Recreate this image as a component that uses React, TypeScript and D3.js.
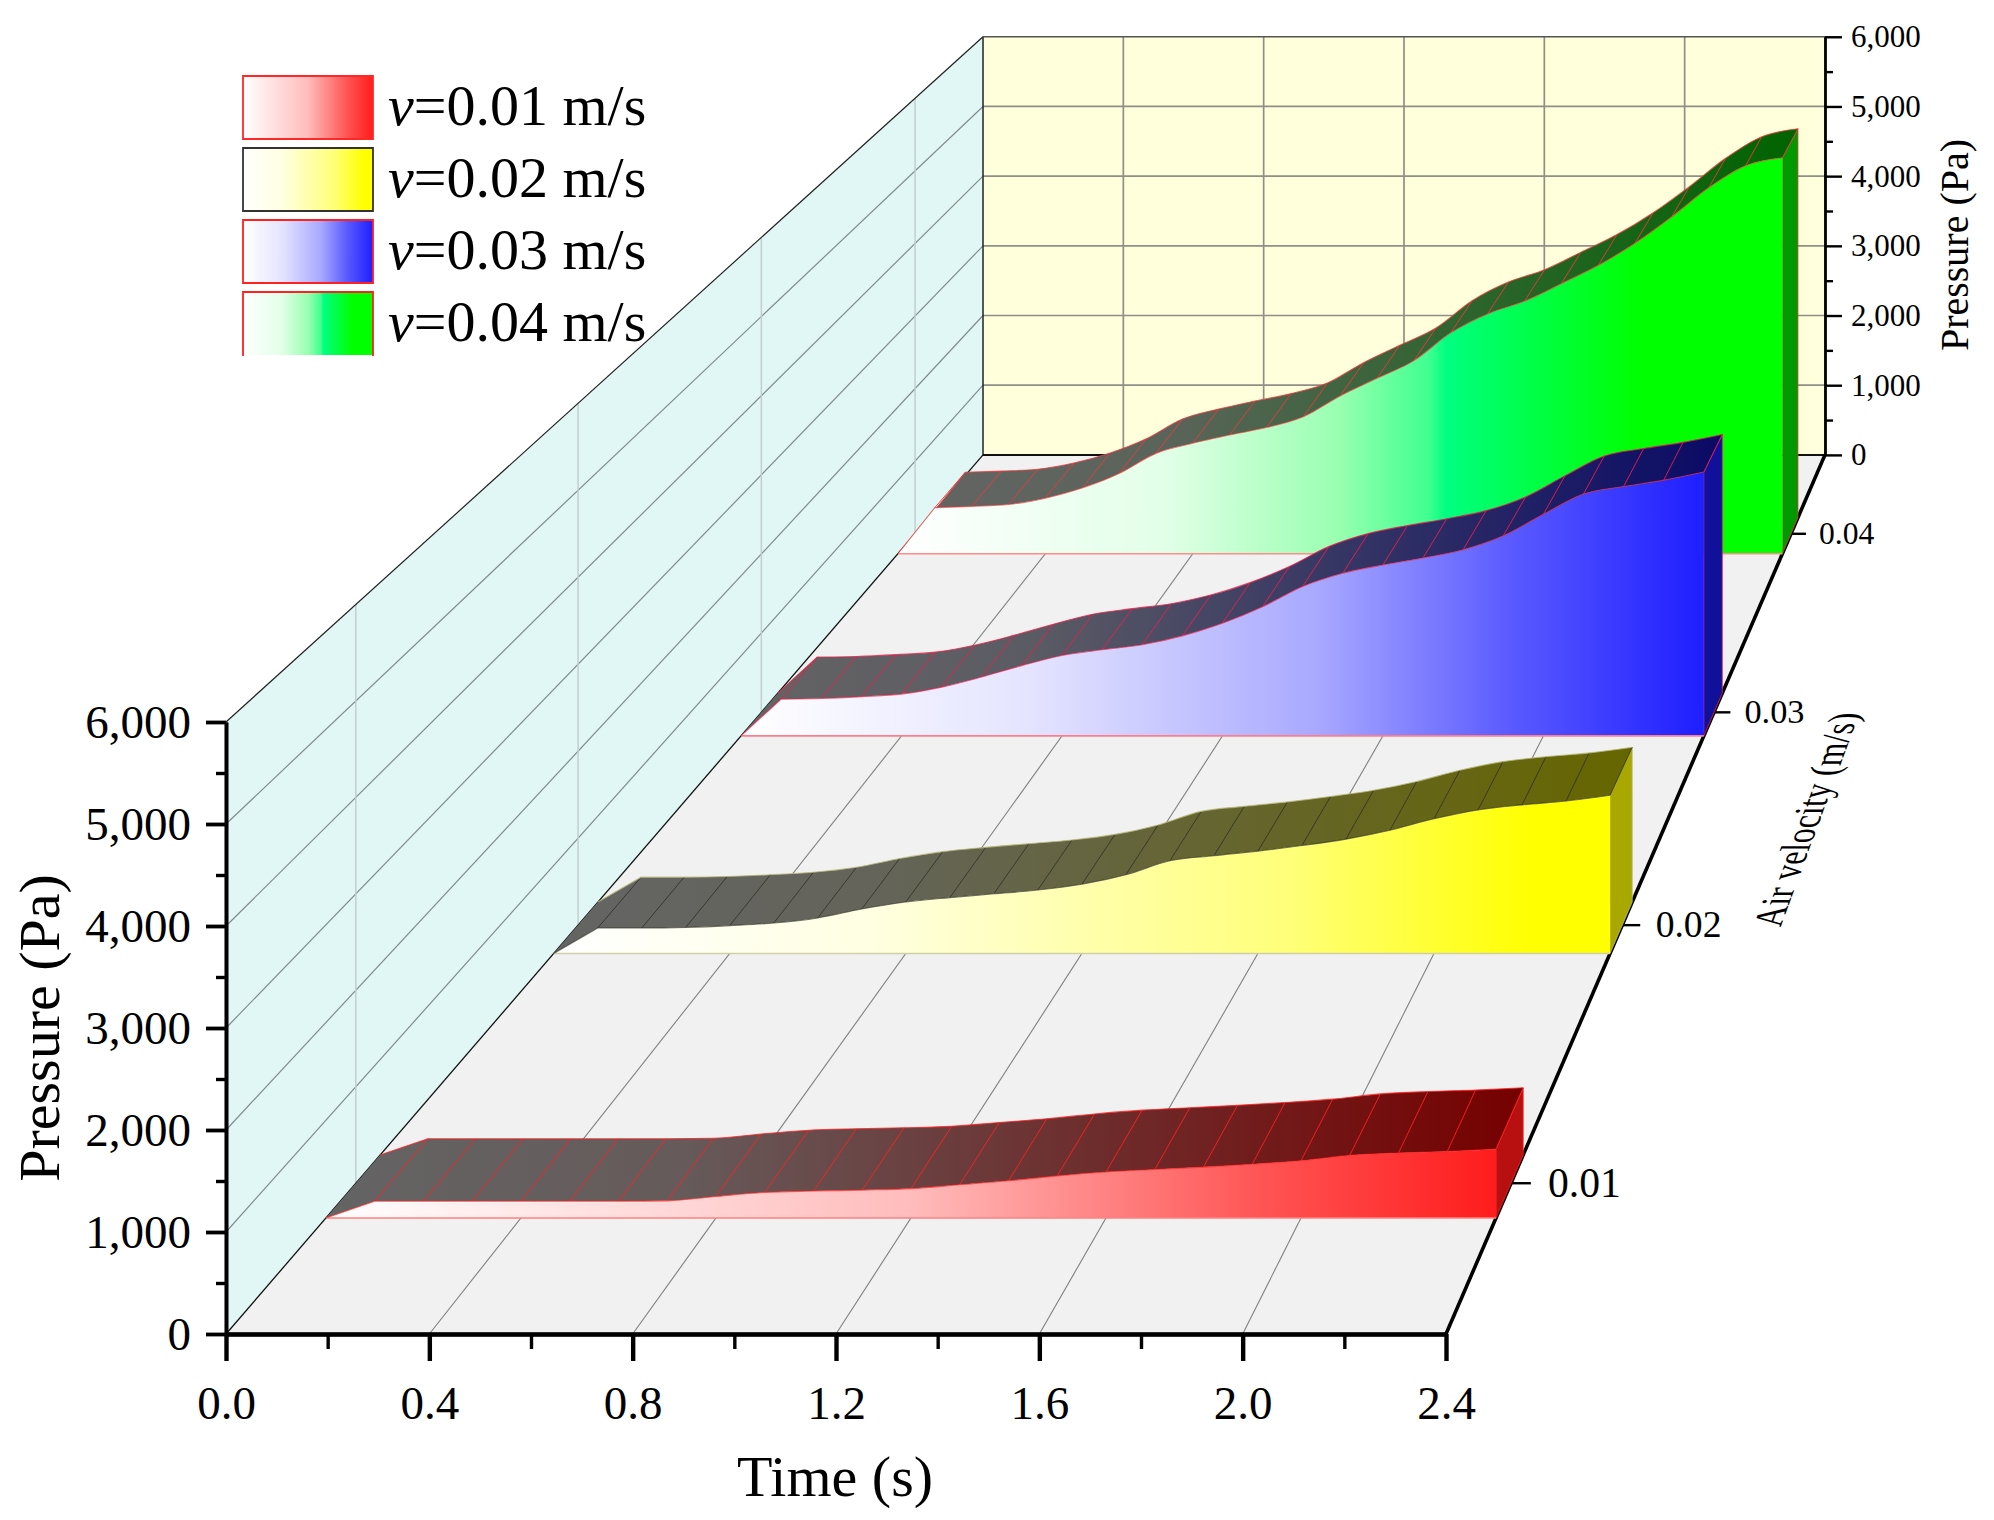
import React, { useEffect, useRef } from "react";
import * as d3 from "d3";

const velocities = ["0.01", "0.02", "0.03", "0.04"];
const times = [0, 0.1, 0.2, 0.3, 0.4, 0.5, 0.6, 0.7, 0.8, 0.9, 1.0, 1.1, 1.2, 1.3, 1.4, 1.5, 1.6, 1.7, 1.8, 1.9, 2.0, 2.1, 2.2, 2.3, 2.4];

const pressure001 = [0, 170, 170, 170, 170, 170, 170, 175, 220, 260, 275, 285, 300, 340, 380, 430, 470, 495, 520, 550, 585, 640, 665, 680, 704];
const pressure002 = [0, 289, 289, 296, 317, 346, 404, 505, 585, 635, 678, 721, 786, 895, 1053, 1111, 1163, 1226, 1299, 1400, 1530, 1631, 1688, 1732, 1798];
const pressure003 = [0, 459, 467, 490, 522, 609, 736, 878, 1005, 1076, 1139, 1250, 1408, 1614, 1867, 2033, 2136, 2223, 2326, 2500, 2769, 3022, 3117, 3196, 3297];
const pressure004 = [0, 628, 645, 671, 757, 895, 1093, 1368, 1506, 1618, 1721, 1868, 2151, 2392, 2633, 3012, 3270, 3442, 3683, 3930, 4234, 4596, 4990, 5290, 5400];
const pressures = [pressure001, pressure002, pressure003, pressure004];

const timeTicks = [0, 0.4, 0.8, 1.2, 1.6, 2.0, 2.4];
const timeMinor = [0.2, 0.6, 1.0, 1.4, 1.8, 2.2];
const pressureTicks = [0, 1000, 2000, 3000, 4000, 5000, 6000];
const pressureMinor = [500, 1500, 2500, 3500, 4500, 5500];

// styles per series, same order as velocities
const frontStops = [
  [[0, "#ffffff"], [0.5, "#ffbcbc"], [0.8, "#ff5454"], [1, "#ff1c1c"]],
  [[0, "#ffffff"], [0.3, "#ffffe2"], [0.7, "#ffff78"], [0.93, "#ffff00"]],
  [[0, "#ffffff"], [0.3, "#e4e4ff"], [0.6, "#a8a8ff"], [0.8, "#5a5aff"], [1, "#1e1eff"]],
  [[0, "#ffffff"], [0.3, "#e2ffe8"], [0.5, "#98ffb0"], [0.6, "#40ff90"], [0.62, "#00ff80"], [0.84, "#00ff00"]],
];
const topEnd = ["#760000", "#666600", "#0a0a66", "#006400"];
const sideFill = ["#b81010", "#a8a800", "#10109a", "#009900"];
const edgeColor = ["#ff2020", "#33332a", "#e8204a", "#e83c3c"];
const crestColor = ["#ff2020", "#b8b878", "#e8204a", "#e83c3c"];
const baseColor = ["#ff8080", "#cfcfa8", "#ff7c8c", "#ff8c8c"];
const legendEdge = ["#ff2828", "#333333", "#ff2020", "#ff2020"];

const SERIF = "'Liberation Serif', serif";

function App() {
  const svgRef = useRef(null);

  useEffect(() => {
    const svg = d3.select(svgRef.current);
    svg.selectAll("*").remove();

    const xScale = d3.scaleLinear().domain([0, 2.4]).range([226, 1446]);
    const yScale = d3.scaleLinear().domain([0, 6000]).range([1334, 722]);
    const depthScale = d3.scaleBand().domain(velocities).range([0, 1]);

    // perspective: everything shrinks towards this vanishing point with depth w (0 front, 1 back)
    const vx = 2669;
    const vy = -1503;
    const k = 0.449;
    const sizeAt = (w) => 1 / (1 + k * w);
    const project = (t, p, w) => {
      const s = sizeAt(w);
      const floorY = vy + (yScale(0) - vy) * s;
      return [vx + (xScale(t) - vx) * s, floorY - (yScale(0) - yScale(p)) * s * (1 - 0.01 * w)];
    };
    const poly = (pts) => d3.line()(pts) + "Z";
    const smooth = d3.line().curve(d3.curveMonotoneX);
    // the first step off the floor stays a sharp straight edge, the rest is smoothed
    const crest = (pts) => `M${pts[0]}L${smooth(pts.slice(1)).slice(1)}`;
    const segment = (g, a, b, color, width) =>
      g.append("line")
        .attr("x1", a[0]).attr("y1", a[1]).attr("x2", b[0]).attr("y2", b[1])
        .attr("stroke", color).attr("stroke-width", width);

    const defs = svg.append("defs");
    velocities.forEach((v, i) => {
      const front = defs.append("linearGradient").attr("id", `front-${i}`);
      frontStops[i].forEach((d) => front.append("stop").attr("offset", d[0]).attr("stop-color", d[1]));
      const mix = d3.interpolateRgb("#646464", topEnd[i]);
      const top = defs.append("linearGradient").attr("id", `top-${i}`);
      [[0, 0], [0.3, 0.1], [0.6, 0.5], [1, 1]].forEach((d) =>
        top.append("stop").attr("offset", d[0]).attr("stop-color", mix(d[1]))
      );
    });

    /* ---------------- walls and floor ---------------- */
    const walls = svg.append("g");
    walls.append("path")
      .attr("d", poly([project(0, 0, 0), project(0, 6000, 0), project(0, 6000, 1), project(0, 0, 1)]))
      .attr("fill", "#e1f7f5");
    walls.append("path")
      .attr("d", poly([project(0, 0, 1), project(0, 6000, 1), project(2.4, 6000, 1), project(2.4, 0, 1)]))
      .attr("fill", "#ffffdc");
    walls.append("path")
      .attr("d", poly([project(0, 0, 0), project(0, 0, 1), project(2.4, 0, 1), project(2.4, 0, 0)]))
      .attr("fill", "#f1f1f1");

    pressureTicks.slice(1, -1).forEach((p) => {
      segment(walls, project(0, p, 0), project(0, p, 1), "#7f8c8c", 1.2);
      segment(walls, project(0, p, 1), project(2.4, p, 1), "#8f8f88", 1.7);
    });
    velocities.forEach((v) => {
      const w = depthScale(v) + depthScale.bandwidth() / 2;
      segment(walls, project(0, 0, w), project(0, 6000, w), "#c2cfcf", 1.5);
    });
    timeTicks.slice(1, -1).forEach((t) => {
      segment(walls, project(t, 0, 1), project(t, 6000, 1), "#8f8f88", 1.7);
      segment(walls, project(t, 0, 0), project(t, 0, 1), "#808080", 1.1);
    });
    segment(walls, project(0, 0, 0), project(0, 0, 1), "#111", 1.3);
    segment(walls, project(0, 6000, 0), project(0, 6000, 1), "#222", 1.2);
    segment(walls, project(0, 0, 1), project(0, 6000, 1), "#222", 1.5);
    segment(walls, project(0, 6000, 1), project(2.4, 6000, 1), "#555", 1.3);
    segment(walls, project(0, 0, 1), project(2.4, 0, 1), "#111", 2);
    segment(walls, project(2.4, 0, 0), project(2.4, 0, 1), "#000", 3.6);

    /* ---------------- depth axis ---------------- */
    const depthAxis = svg.append("g");
    depthAxis.append("text")
      // baseline follows the floor edge, letters stand upright to the left of it
      .attr("transform", "matrix(0.345,-0.935,1.3,0,1820,820)")
      .attr("text-anchor", "middle")
      .attr("font-family", SERIF)
      .attr("font-size", 32)
      .text("Air velocity (m/s)");
    velocities.forEach((v) => {
      const w = depthScale(v) + depthScale.bandwidth() / 2;
      const s = sizeAt(w);
      const p = project(2.4, 0, w);
      segment(depthAxis, p, [p[0] + 21 * s, p[1]], "#000", 2.4);
      depthAxis.append("text")
        .attr("x", p[0] + 39 * s)
        .attr("y", p[1])
        .attr("dy", "0.32em")
        .attr("font-family", SERIF)
        .attr("font-size", 44 * s)
        .text(v);
    });

    /* ---------------- ribbons, far one first ---------------- */
    const ribbons = svg.append("g");
    d3.range(velocities.length - 1, -1, -1).forEach((i) => {
      const center = depthScale(velocities[i]) + depthScale.bandwidth() / 2;
      const wFront = center - 0.03;
      const wBack = center + 0.025;
      const rows = times.map((t, j) => ({
        front: project(t, pressures[i][j], wFront),
        back: project(t, pressures[i][j], wBack),
        base: project(t, 0, wFront),
      }));
      const last = times[times.length - 1];
      const frontLine = crest(rows.map((d) => d.front));
      const backLine = crest(rows.map((d) => d.back));
      const backTail = smooth(rows.slice(1).map((d) => d.back).reverse()).slice(1);
      const g = ribbons.append("g");

      g.append("path")
        .attr("d", poly([
          rows[rows.length - 1].front,
          rows[rows.length - 1].back,
          project(last, 0, wBack),
          project(last, 0, wFront),
        ]))
        .attr("fill", sideFill[i])
        .attr("stroke", crestColor[i])
        .attr("stroke-width", 0.8);

      g.append("path")
        .attr("d", `${frontLine}L${backTail}L${rows[0].back}Z`)
        .attr("fill", `url(#top-${i})`);
      rows.slice(1).forEach((d) => segment(g, d.front, d.back, edgeColor[i], 0.9));
      g.append("path")
        .attr("d", backLine)
        .attr("fill", "none")
        .attr("stroke", crestColor[i])
        .attr("stroke-opacity", 0.8)
        .attr("stroke-width", 1.1);

      g.append("path")
        .attr("d", `${frontLine}L${rows[rows.length - 1].base}L${rows[0].base}Z`)
        .attr("fill", `url(#front-${i})`);
      g.append("path")
        .attr("d", d3.line()(rows.map((d) => d.base)))
        .attr("fill", "none")
        .attr("stroke", baseColor[i])
        .attr("stroke-width", 1.6);
      g.append("path")
        .attr("d", frontLine)
        .attr("fill", "none")
        .attr("stroke", edgeColor[i])
        .attr("stroke-opacity", 0.7)
        .attr("stroke-width", 1.1);
    });

    /* ---------------- front axes ---------------- */
    const axisStyle = (g, width) => {
      g.selectAll(".domain").attr("stroke", "#000").attr("stroke-width", width);
      g.selectAll(".tick line").attr("stroke", "#000").attr("stroke-width", width);
      g.selectAll("text").attr("font-family", SERIF).attr("fill", "#000");
    };

    const leftMinor = svg.append("g").attr("transform", `translate(${xScale(0)},0)`)
      .call(d3.axisLeft(yScale).tickValues(pressureMinor).tickSize(10).tickFormat(() => "").tickSizeOuter(0));
    axisStyle(leftMinor, 3.4);
    const left = svg.append("g").attr("transform", `translate(${xScale(0)},0)`)
      .call(d3.axisLeft(yScale).tickValues(pressureTicks).tickSize(20).tickPadding(15).tickFormat(d3.format(",")).tickSizeOuter(0));
    axisStyle(left, 3.8);
    left.selectAll("text").attr("font-size", 47);

    const bottomMinor = svg.append("g").attr("transform", `translate(0,${yScale(0)})`)
      .call(d3.axisBottom(xScale).tickValues(timeMinor).tickSize(15).tickFormat(() => "").tickSizeOuter(0));
    axisStyle(bottomMinor, 3.4);
    const bottom = svg.append("g").attr("transform", `translate(0,${yScale(0)})`)
      .call(d3.axisBottom(xScale).tickValues(timeTicks).tickSize(27).tickPadding(25).tickFormat(d3.format(".1f")).tickSizeOuter(0));
    axisStyle(bottom, 4.4);
    bottom.selectAll("text").attr("font-size", 47);

    // pressure axis on the back wall
    const backScale = d3.scaleLinear().domain([0, 6000])
      .range([project(2.4, 0, 1)[1], project(2.4, 6000, 1)[1]]);
    const backX = project(2.4, 0, 1)[0];
    const rightMinor = svg.append("g").attr("transform", `translate(${backX},0)`)
      .call(d3.axisRight(backScale).tickValues(pressureMinor).tickSize(8).tickFormat(() => "").tickSizeOuter(0));
    axisStyle(rightMinor, 2.4);
    const right = svg.append("g").attr("transform", `translate(${backX},0)`)
      .call(d3.axisRight(backScale).tickValues(pressureTicks).tickSize(17).tickPadding(9).tickFormat(d3.format(",")).tickSizeOuter(0));
    axisStyle(right, 2.4);
    right.selectAll("text").attr("font-size", 31);

    /* ---------------- titles ---------------- */
    const title = (transform, size, label) =>
      svg.append("text")
        .attr("transform", transform)
        .attr("text-anchor", "middle")
        .attr("font-family", SERIF)
        .attr("font-size", size)
        .text(label);
    title("translate(835,1496)", 58, "Time (s)");
    title("translate(59,1028) rotate(-90)", 58, "Pressure (Pa)");
    title("translate(1968,245) rotate(-90)", 40, "Pressure (Pa)");

    /* ---------------- legend ---------------- */
    const legendY = d3.scalePoint().domain(velocities).range([76, 292]);
    const swatchH = 63;
    const legend = svg.append("g");
    velocities.forEach((v, i) => {
      const y = legendY(v);
      legend.append("rect")
        .attr("x", 243).attr("y", y).attr("width", 130).attr("height", swatchH)
        .attr("fill", `url(#front-${i})`);
      const x0 = 243, x1 = 373, y1 = y + swatchH + (i === 3 ? 1 : 0);
      const d = i === 3
        ? `M${x0},${y1}V${y}H${x1}V${y1}`
        : `M${x0},${y}H${x1}V${y1}H${x0}Z`;
      legend.append("path").attr("d", d).attr("fill", "none")
        .attr("stroke", legendEdge[i]).attr("stroke-width", 1.8);
      const label = legend.append("text")
        .attr("x", 388).attr("y", y + 49)
        .attr("font-family", SERIF)
        .attr("font-size", 58);
      label.append("tspan").attr("font-style", "italic").text("v");
      label.append("tspan").text(`=${v} m/s`);
    });
  }, []);

  return (
    <svg
      ref={svgRef}
      width={1994}
      height={1520}
      style={{ position: "absolute", left: 0, top: 0, background: "#fff" }}
    />
  );
}

export default App;
